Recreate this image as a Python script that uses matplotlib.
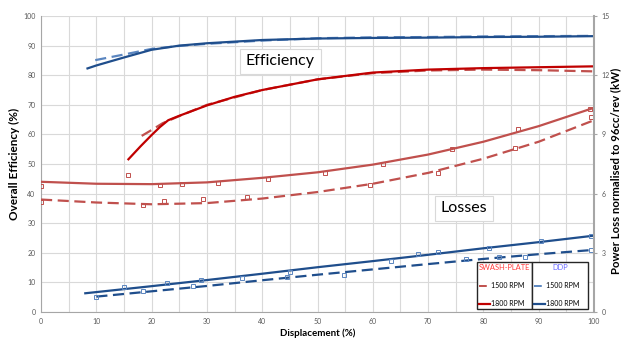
import numpy as np
import matplotlib.pyplot as plt
from matplotlib.lines import Line2D

plt.rcParams['font.family'] = ['Lato', 'DejaVu Sans']

# Efficiency (%) trend lines
ddp18_x = [8.4, 10, 15, 20, 25, 30, 40, 50, 60, 70, 80, 90, 100]
ddp18_eff = [82.3, 83.3, 86.0, 88.6, 90.0, 90.8, 91.9, 92.4, 92.6, 92.7, 92.9, 93.0, 93.2]
ddp15_x = [9.8, 15, 20, 25, 30, 40, 50, 60, 70, 80, 90, 100]
ddp15_eff = [85.1, 87.0, 88.9, 89.9, 90.6, 91.7, 92.5, 92.8, 92.9, 93.1, 93.2, 93.3]
sw18_x = [15.8, 18, 20, 21.5, 23, 25, 30, 35, 40, 50, 60, 70, 80, 90, 100]
sw18_eff = [51.6, 56.0, 59.8, 62.5, 64.8, 66.3, 69.8, 72.7, 75.0, 78.6, 80.9, 81.9, 82.4, 82.7, 83.0]
sw15_x = [18.2, 20, 22, 25, 30, 40, 50, 60, 70, 80, 90, 100]
sw15_eff = [59.5, 61.5, 63.8, 66.2, 70.0, 75.0, 78.6, 80.7, 81.6, 81.9, 81.7, 81.3]

# Power loss (kW) trend lines
trend_x = [0, 10, 20, 30, 40, 50, 60, 70, 80, 90, 100]
sw18_loss = [6.60, 6.50, 6.48, 6.57, 6.80, 7.08, 7.47, 7.98, 8.63, 9.42, 10.35]
sw15_loss = [5.70, 5.55, 5.46, 5.52, 5.75, 6.08, 6.50, 7.05, 7.77, 8.63, 9.72]
ddp_tx = [8, 20, 30, 40, 50, 60, 70, 80, 90, 100]
ddp18_loss = [0.95, 1.31, 1.62, 1.94, 2.27, 2.58, 2.90, 3.23, 3.54, 3.87]
ddp15_tx = [10, 20, 30, 40, 50, 60, 70, 80, 90, 100]
ddp15_loss = [0.78, 1.05, 1.32, 1.61, 1.89, 2.16, 2.43, 2.69, 2.93, 3.15]

# Power loss (kW) measured points
sw18_px = [0, 15.7, 21.5, 25.4, 32, 41, 51.4, 61.8, 74.3, 86.3, 99.3]
sw18_py = [6.39, 6.96, 6.42, 6.48, 6.56, 6.75, 7.07, 7.50, 8.28, 9.29, 10.28]
sw15_px = [0, 18.4, 22.3, 29.2, 37.3, 59.4, 71.7, 85.7, 99.4]
sw15_py = [5.58, 5.42, 5.61, 5.73, 5.81, 6.45, 7.02, 8.30, 9.90]
ddp18_px = [15, 22.7, 28.9, 36.4, 45, 63.3, 68.2, 71.8, 81, 90.4, 99.5]
ddp18_py = [1.29, 1.46, 1.62, 1.74, 2.01, 2.60, 2.93, 3.03, 3.23, 3.62, 3.86]
ddp15_px = [9.9, 18.4, 27.5, 44.4, 54.8, 76.9, 82.9, 87.5, 99.5]
ddp15_py = [0.75, 1.05, 1.32, 1.79, 1.88, 2.67, 2.78, 2.78, 3.15]

dark_blue = '#1F4E8C'
light_blue = '#5B86C0'
dark_red = '#C00000'
light_red = '#C0504D'
dash = (0, (5, 2.5))

fig = plt.figure(figsize=(6.22, 3.41), dpi=100)
ax = fig.add_axes([0.066, 0.085, 0.889, 0.868])
ax2 = ax.twinx()

# dashed first so the solid trend lines sit on top
ax.plot(ddp15_x, ddp15_eff, color=light_blue, lw=1.6, linestyle=dash)
ax.plot(ddp18_x, ddp18_eff, color=dark_blue, lw=1.6)
ax.plot(sw15_x, sw15_eff, color=light_red, lw=1.6, linestyle=dash)
ax.plot(sw18_x, sw18_eff, color=dark_red, lw=1.6)

ax2.plot(trend_x, sw18_loss, color=light_red, lw=1.6)
ax2.plot(trend_x, sw15_loss, color=light_red, lw=1.6, linestyle=dash)
ax2.plot(ddp_tx, ddp18_loss, color=dark_blue, lw=1.6)
ax2.plot(ddp15_tx, ddp15_loss, color=dark_blue, lw=1.6, linestyle=dash)
mk = dict(marker='s', markersize=2.5, markerfacecolor='none', markeredgewidth=0.7, linestyle='none')
ax2.plot(sw18_px, sw18_py, markeredgecolor=light_red, **mk)
ax2.plot(sw15_px, sw15_py, markeredgecolor=light_red, **mk)
ax2.plot(ddp18_px, ddp18_py, markeredgecolor=light_blue, **mk)
ax2.plot(ddp15_px, ddp15_py, markeredgecolor=light_blue, **mk)

ax.set_xlim(0, 100)
ax.set_ylim(0, 100)
ax2.set_ylim(0, 15)
ax.set_xticks(np.arange(0, 101, 10))
ax.set_xticks(np.arange(0, 101, 5), minor=True)
ax.set_yticks(np.arange(0, 101, 10))
ax2.set_yticks(np.arange(0, 16, 3))
ax.grid(True, which='both', axis='x', color='#D9D9D9', lw=0.8)
ax.grid(True, which='major', axis='y', color='#D9D9D9', lw=0.8)
ax.set_axisbelow(True)

for a in (ax, ax2):
    for s in a.spines.values():
        s.set_visible(False)
ax.spines['left'].set_visible(True)
ax.spines['left'].set_color('#A6A6A6')
ax.spines['bottom'].set_visible(True)
ax.spines['bottom'].set_color('#A6A6A6')
ax2.spines['right'].set_visible(True)
ax2.spines['right'].set_color('#A6A6A6')
ax2.spines['right'].set_linewidth(1.5)

ax.tick_params(axis='both', which='both', length=0, labelsize=5, labelcolor='#595959', pad=4)
ax2.tick_params(axis='y', length=2.5, color='#A6A6A6', labelsize=5, labelcolor='#595959', pad=3)

ax.set_xlabel('Displacement (%)', fontsize=7, fontweight='bold', labelpad=3)
ax.set_ylabel('Overall Efficiency (%)', fontsize=8.5, fontweight='bold', labelpad=2)
fig.text(616 / 622, 0.5, 'Power Loss normalised to 96cc/rev (kW)', fontsize=8.2,
         fontweight='bold', rotation=90, ha='center', va='center')

box = dict(boxstyle='square,pad=0.35', facecolor='white', edgecolor='#D9D9D9', lw=0.8)
ax.text(43.3, 84.7, 'Efficiency', fontsize=11.5, ha='center', va='center', bbox=box)
ax.text(76.5, 35.0, 'Losses', fontsize=11.5, ha='center', va='center', bbox=box)

h_sw = [Line2D([], [], color=light_red, lw=1.4, linestyle=(0, (4, 10))),
        Line2D([], [], color=dark_red, lw=1.6)]
h_dd = [Line2D([], [], color=light_blue, lw=1.4, linestyle=(0, (4, 10))),
        Line2D([], [], color=dark_blue, lw=1.6)]
leg_kw = dict(fontsize=5, handlelength=1.6, handletextpad=0.2, labelspacing=1.6,
              fancybox=False, borderaxespad=0, borderpad=0.3, framealpha=1,
              loc='lower left', mode='expand')
leg1 = ax2.legend(h_sw, ['1500 RPM', '1800 RPM'], title='SWASH-PLATE',
                  bbox_to_anchor=(0.788, 0.009, 0.099, 0.15), **leg_kw)
leg1.get_title().set_color('#FF3B3B')
leg1.get_title().set_fontsize(5.4)
leg1.get_frame().set_edgecolor('#262626')
ax2.add_artist(leg1)
leg2 = ax2.legend(h_dd, ['1500 RPM', '1800 RPM'], title='DDP',
                  bbox_to_anchor=(0.887, 0.009, 0.102, 0.15), **leg_kw)
leg2.get_title().set_color('#6B6BFF')
leg2.get_title().set_fontsize(5.4)
leg2.get_frame().set_edgecolor('#262626')

fig.savefig('out.png', dpi=100)
